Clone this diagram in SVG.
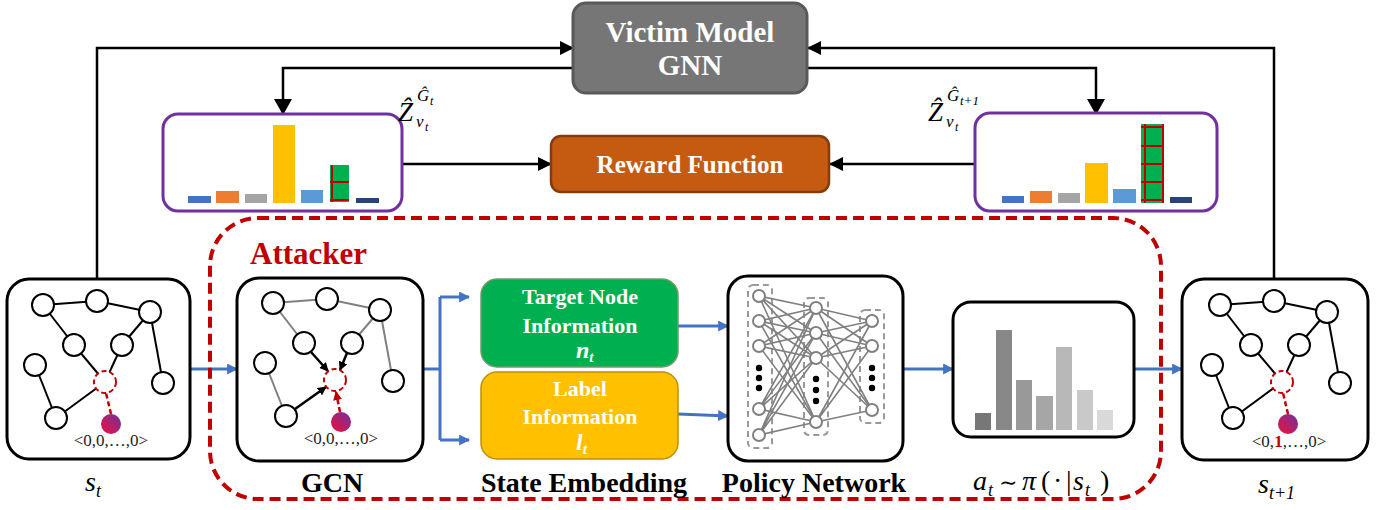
<svg xmlns="http://www.w3.org/2000/svg" width="1384" height="510" viewBox="0 0 1384 510">
  <style>
    .box { fill: #fff; stroke: #000; stroke-width: 3; }
    .nd { fill: #fff; stroke: #000; stroke-width: 2; }
    .tgt { fill: #fff; stroke: #C00000; stroke-width: 2; stroke-dasharray: 5 3; }
    .e { stroke: #000; stroke-width: 2; fill: none; }
    .eg { stroke: #808080; stroke-width: 2; fill: none; }
    .dr { stroke: #C00000; stroke-width: 2.5; stroke-dasharray: 5 3; fill: none; }
    .lbl { font-family: "Liberation Serif", "DejaVu Serif", serif; font-weight: bold; }
    .math { font-family: "Liberation Serif", "DejaVu Serif", serif; }
    .vec { font-family: "Liberation Serif", "DejaVu Serif", serif; font-size: 17px; fill: #222; }
    .wire { stroke: #000; stroke-width: 2.5; fill: none; }
    .blue { stroke: #4472C4; stroke-width: 3; fill: none; }
    .chart { fill: #fff; stroke: #7030A0; stroke-width: 3; }
    .nn { stroke: #808080; stroke-width: 1.6; fill: none; }
    .nnode { fill: #fff; stroke: #808080; stroke-width: 2; }
    .layer { fill: none; stroke: #999; stroke-width: 2; stroke-dasharray: 6 4; }
    .grid { stroke: #C00000; stroke-width: 2; }
  </style>
  <defs>
    <linearGradient id="feat" x1="0" y1="1" x2="1" y2="0">
      <stop offset="0" stop-color="#F0103A"/>
      <stop offset="1" stop-color="#7030A0"/>
    </linearGradient>
    <marker id="ahBig" viewBox="0 0 16 18" refX="15" refY="9" markerWidth="16" markerHeight="18" markerUnits="userSpaceOnUse" orient="auto">
      <path d="M0,0 L16,9 L0,18 z" fill="#000"/>
    </marker>
    <marker id="ahMed" viewBox="0 0 14 14" refX="13" refY="7" markerWidth="14" markerHeight="14" markerUnits="userSpaceOnUse" orient="auto">
      <path d="M0,0 L14,7 L0,14 z" fill="#000"/>
    </marker>
    <marker id="ahBlue" viewBox="0 0 10 10" refX="9" refY="5" markerWidth="11" markerHeight="11" markerUnits="userSpaceOnUse" orient="auto">
      <path d="M0,0 L10,5 L0,10 z" fill="#4472C4"/>
    </marker>
    <marker id="ahSmall" viewBox="0 0 10 10" refX="9" refY="5" markerWidth="9" markerHeight="9" markerUnits="userSpaceOnUse" orient="auto">
      <path d="M0,0 L10,5 L0,10 z" fill="#000"/>
    </marker>
    <marker id="ahRed" viewBox="0 0 10 10" refX="9" refY="5" markerWidth="9" markerHeight="9" markerUnits="userSpaceOnUse" orient="auto">
      <path d="M0,0 L10,5 L0,10 z" fill="#C00000"/>
    </marker>
    <!-- plain graph: edges, nodes, target node and its feature node -->
    <g id="graphPlain">
      <g>
        <line class="e" x1="36" y1="26" x2="90" y2="22"/>
        <line class="e" x1="90" y1="22" x2="143" y2="33"/>
        <line class="e" x1="36" y1="26" x2="67" y2="66"/>
        <line class="e" x1="143" y1="33" x2="115" y2="66"/>
        <line class="e" x1="143" y1="33" x2="156" y2="104"/>
        <line class="e" x1="67" y1="66" x2="98" y2="103"/>
        <line class="e" x1="115" y1="66" x2="98" y2="103"/>
        <line class="e" x1="28" y1="86" x2="49" y2="139"/>
        <line class="e" x1="49" y1="139" x2="98" y2="103"/>
        <line class="dr" x1="104" y1="135" x2="99" y2="114"/>
      </g>
      <circle class="nd" cx="36" cy="26" r="11"/>
      <circle class="nd" cx="90" cy="22" r="11"/>
      <circle class="nd" cx="143" cy="33" r="11"/>
      <circle class="nd" cx="67" cy="66" r="11"/>
      <circle class="nd" cx="115" cy="66" r="11"/>
      <circle class="nd" cx="28" cy="86" r="11"/>
      <circle class="tgt" cx="98" cy="103" r="11"/>
      <circle class="nd" cx="156" cy="104" r="11"/>
      <circle class="nd" cx="49" cy="139" r="11"/>
      <circle cx="104" cy="145" r="10" fill="url(#feat)"/>
    </g>
  </defs>

  <!-- connectors -->
  <g id="connectors">
    <polyline class="wire" points="97,279 97,48 573,48" marker-end="url(#ahMed)"/>
    <polyline class="wire" points="1274,279 1274,48 808,48" marker-end="url(#ahMed)"/>
    <polyline class="wire" points="573,68 283,68 283,114" marker-end="url(#ahBig)"/>
    <polyline class="wire" points="807,68 1096,68 1096,114" marker-end="url(#ahBig)"/>
    <line class="wire" x1="402" y1="164" x2="551" y2="164" marker-end="url(#ahMed)"/>
    <line class="wire" x1="975" y1="164" x2="830" y2="164" marker-end="url(#ahMed)"/>
    <line class="blue" x1="190" y1="369" x2="237" y2="369" marker-end="url(#ahBlue)"/>
    <polyline class="blue" points="423,369 440,369"/>
    <polyline class="blue" points="440,297 440,440"/>
    <line class="blue" x1="440" y1="297" x2="469" y2="297" marker-end="url(#ahBlue)"/>
    <line class="blue" x1="440" y1="440" x2="469" y2="440" marker-end="url(#ahBlue)"/>
    <line class="blue" x1="678" y1="326" x2="728" y2="326" marker-end="url(#ahBlue)"/>
    <line class="blue" x1="678" y1="414" x2="728" y2="416" marker-end="url(#ahBlue)"/>
    <line class="blue" x1="903" y1="369" x2="953" y2="369" marker-end="url(#ahBlue)"/>
    <line class="blue" x1="1134" y1="369" x2="1182" y2="369" marker-end="url(#ahBlue)"/>
  </g>

  <!-- victim model -->
  <g id="victim">
    <rect x="573" y="3" width="234" height="90" rx="13" fill="#767676" stroke="#595959" stroke-width="3"/>
    <text class="lbl" x="690" y="42" font-size="29" fill="#fff" text-anchor="middle">Victim Model</text>
    <text class="lbl" x="690" y="75" font-size="29" fill="#fff" text-anchor="middle">GNN</text>
  </g>

  <!-- reward function -->
  <g id="reward">
    <rect x="551" y="136" width="278" height="56" rx="10" fill="#C55A11" stroke="#843C0C" stroke-width="2.5"/>
    <text class="lbl" x="690" y="173" font-size="25" fill="#fff" text-anchor="middle">Reward Function</text>
  </g>

  <!-- prediction on the clean graph -->
  <g id="predBefore">
    <rect class="chart" x="163" y="114" width="239" height="97" rx="15"/>
    <rect x="188" y="196" width="23" height="7" fill="#4472C4"/>
    <rect x="216" y="191" width="23" height="12" fill="#ED7D31"/>
    <rect x="245" y="194" width="22" height="9" fill="#A5A5A5"/>
    <rect x="273" y="125" width="22" height="78" fill="#FFC000"/>
    <rect x="301" y="190" width="22" height="13" fill="#5B9BD5"/>
    <rect x="330" y="165" width="19" height="37" fill="#00B050"/>
    <line class="grid" x1="332" y1="165" x2="332" y2="202"/>
    <line class="grid" x1="330" y1="182" x2="349" y2="182"/>
    <line class="grid" x1="330" y1="200" x2="349" y2="200"/>
    <rect x="356" y="198" width="23" height="5" fill="#264478"/>
  </g>
  <g id="zBefore" class="math">
    <text x="398" y="121" font-size="27" font-style="italic">Ẑ</text>
    <text x="417" y="101" font-size="17" font-style="italic">Ĝ</text>
    <text x="430" y="105" font-size="12" font-style="italic">t</text>
    <text x="416" y="127" font-size="17" font-style="italic">v</text>
    <text x="425" y="131" font-size="12" font-style="italic">t</text>
  </g>

  <!-- prediction on the perturbed graph -->
  <g id="predAfter">
    <rect class="chart" x="975" y="113" width="242" height="98" rx="15"/>
    <rect x="1002" y="196" width="22" height="7" fill="#4472C4"/>
    <rect x="1030" y="191" width="22" height="12" fill="#ED7D31"/>
    <rect x="1058" y="193" width="22" height="10" fill="#A5A5A5"/>
    <rect x="1085" y="163" width="23" height="40" fill="#FFC000"/>
    <rect x="1113" y="189" width="23" height="14" fill="#5B9BD5"/>
    <rect x="1141" y="124" width="23" height="79" fill="#00B050"/>
    <line class="grid" x1="1145" y1="124" x2="1145" y2="203"/>
    <line class="grid" x1="1163" y1="124" x2="1163" y2="203"/>
    <line class="grid" x1="1141" y1="127" x2="1164" y2="127"/>
    <line class="grid" x1="1141" y1="146" x2="1164" y2="146"/>
    <line class="grid" x1="1141" y1="164" x2="1164" y2="164"/>
    <line class="grid" x1="1141" y1="182" x2="1164" y2="182"/>
    <line class="grid" x1="1141" y1="200" x2="1164" y2="200"/>
    <rect x="1170" y="197" width="22" height="6" fill="#264478"/>
  </g>
  <g id="zAfter" class="math">
    <text x="928" y="121" font-size="27" font-style="italic">Ẑ</text>
    <text x="947" y="101" font-size="17" font-style="italic">Ĝ</text>
    <text x="960" y="105" font-size="13" font-style="italic">t+1</text>
    <text x="946" y="127" font-size="17" font-style="italic">v</text>
    <text x="955" y="131" font-size="12" font-style="italic">t</text>
  </g>

  <!-- attacker frame -->
  <g id="attacker">
    <rect x="210" y="218" width="951" height="281" rx="48" fill="none" stroke="#C00000" stroke-width="4" stroke-dasharray="11 6"/>
    <text class="lbl" x="250" y="264" font-size="31" fill="#C00000">Attacker</text>
  </g>

  <!-- state s_t -->
  <g id="stateT">
    <rect class="box" x="7" y="279" width="183" height="180" rx="22"/>
    <use href="#graphPlain" x="7" y="279"/>
    <text class="vec" x="111" y="446" text-anchor="middle">&lt;0,0,…,0&gt;</text>
  </g>

  <!-- GCN -->
  <g id="gcn">
    <rect class="box" x="237" y="278" width="186" height="183" rx="22"/>
    <g transform="translate(237,277)">
      <line class="eg" x1="36" y1="26" x2="90" y2="22"/>
      <line class="eg" x1="90" y1="22" x2="143" y2="33"/>
      <line class="eg" x1="36" y1="26" x2="67" y2="66"/>
      <line class="eg" x1="143" y1="33" x2="115" y2="66"/>
      <line class="eg" x1="143" y1="33" x2="156" y2="104"/>
      <line class="eg" x1="28" y1="86" x2="49" y2="139"/>
      <line stroke="#000" stroke-width="2.5" x1="74" y1="75" x2="91" y2="94" marker-end="url(#ahSmall)"/>
      <line stroke="#000" stroke-width="2.5" x1="110" y1="76" x2="103" y2="93" marker-end="url(#ahSmall)"/>
      <line stroke="#000" stroke-width="2.5" x1="58" y1="132" x2="89" y2="110" marker-end="url(#ahSmall)"/>
      <line class="dr" x1="103" y1="135" x2="99" y2="115" marker-end="url(#ahRed)"/>
      <circle class="nd" cx="36" cy="26" r="11"/>
      <circle class="nd" cx="90" cy="22" r="11"/>
      <circle class="nd" cx="143" cy="33" r="11"/>
      <circle class="nd" cx="67" cy="66" r="11"/>
      <circle class="nd" cx="115" cy="66" r="11"/>
      <circle class="nd" cx="28" cy="86" r="11"/>
      <circle class="tgt" cx="98" cy="103" r="11"/>
      <circle class="nd" cx="156" cy="104" r="11"/>
      <circle class="nd" cx="49" cy="139" r="11"/>
      <circle cx="104" cy="145" r="10" fill="url(#feat)"/>
    </g>
    <text class="vec" x="341" y="444" text-anchor="middle">&lt;0,0,…,0&gt;</text>
    <text class="lbl" x="332" y="492" font-size="28" text-anchor="middle">GCN</text>
  </g>

  <!-- state embedding -->
  <g id="targetInfo">
    <rect x="481" y="279" width="197" height="88" rx="16" fill="#00B050" stroke="#6F9A6A" stroke-width="1.5"/>
    <text class="lbl" x="580" y="304" font-size="22" fill="#fff" text-anchor="middle">Target Node</text>
    <text class="lbl" x="580" y="333" font-size="22" fill="#fff" text-anchor="middle">Information</text>
    <text class="math" x="576" y="358" font-size="24" font-style="italic" font-weight="bold" fill="#fff">n<tspan font-size="15" dy="4">t</tspan></text>
  </g>
  <g id="labelInfo">
    <rect x="481" y="372" width="197" height="87" rx="16" fill="#FFC000" stroke="#BF9000" stroke-width="1.5"/>
    <text class="lbl" x="580" y="396" font-size="22" fill="#fff" text-anchor="middle">Label</text>
    <text class="lbl" x="580" y="424" font-size="22" fill="#fff" text-anchor="middle">Information</text>
    <text class="math" x="576" y="450" font-size="24" font-style="italic" font-weight="bold" fill="#fff">l<tspan font-size="15" dy="4">t</tspan></text>
  </g>
  <text class="lbl" x="584" y="492" font-size="28" text-anchor="middle">State Embedding</text>

  <!-- policy network -->
  <g id="policy">
    <rect class="box" x="728" y="276" width="175" height="185" rx="20"/>
    <rect class="layer" x="748" y="285" width="24" height="163" rx="5"/>
    <rect class="layer" x="804" y="298" width="24" height="137" rx="5"/>
    <rect class="layer" x="860" y="310" width="24" height="113" rx="5"/>
    <g class="nn">
      <path d="M759,296 L816,308 M759,296 L816,333 M759,296 L816,358 M759,296 L816,422"/>
      <path d="M759,321 L816,308 M759,321 L816,333 M759,321 L816,358 M759,321 L816,422"/>
      <path d="M759,346 L816,308 M759,346 L816,333 M759,346 L816,358 M759,346 L816,422"/>
      <path d="M759,409 L816,308 M759,409 L816,333 M759,409 L816,358 M759,409 L816,422"/>
      <path d="M759,435 L816,308 M759,435 L816,333 M759,435 L816,358 M759,435 L816,422"/>
      <path d="M816,308 L872,321 M816,308 L872,346 M816,308 L872,410"/>
      <path d="M816,333 L872,321 M816,333 L872,346 M816,333 L872,410"/>
      <path d="M816,358 L872,321 M816,358 L872,346 M816,358 L872,410"/>
      <path d="M816,422 L872,321 M816,422 L872,346 M816,422 L872,410"/>
    </g>
    <g>
      <circle class="nnode" cx="759" cy="296" r="6"/>
      <circle class="nnode" cx="759" cy="321" r="6"/>
      <circle class="nnode" cx="759" cy="346" r="6"/>
      <circle class="nnode" cx="759" cy="409" r="6"/>
      <circle class="nnode" cx="759" cy="435" r="6"/>
      <circle class="nnode" cx="816" cy="308" r="6"/>
      <circle class="nnode" cx="816" cy="333" r="6"/>
      <circle class="nnode" cx="816" cy="358" r="6"/>
      <circle class="nnode" cx="816" cy="422" r="6"/>
      <circle class="nnode" cx="872" cy="321" r="6"/>
      <circle class="nnode" cx="872" cy="346" r="6"/>
      <circle class="nnode" cx="872" cy="410" r="6"/>
    </g>
    <g fill="#000">
      <circle cx="759" cy="368" r="3.2"/><circle cx="759" cy="378" r="3.2"/><circle cx="759" cy="388" r="3.2"/>
      <circle cx="816" cy="379" r="3.2"/><circle cx="816" cy="390" r="3.2"/><circle cx="816" cy="401" r="3.2"/>
      <circle cx="872" cy="368" r="3.2"/><circle cx="872" cy="378" r="3.2"/><circle cx="872" cy="388" r="3.2"/>
    </g>
    <text class="lbl" x="814" y="492" font-size="28" text-anchor="middle">Policy Network</text>
  </g>

  <!-- action distribution -->
  <g id="action">
    <rect class="box" x="953" y="302" width="181" height="135" rx="18"/>
    <rect x="975" y="413" width="16" height="17" fill="#777"/>
    <rect x="996" y="330" width="16" height="100" fill="#888"/>
    <rect x="1016" y="380" width="16" height="50" fill="#999"/>
    <rect x="1036" y="396" width="17" height="34" fill="#A6A6A6"/>
    <rect x="1056" y="347" width="16" height="83" fill="#B8B8B8"/>
    <rect x="1077" y="390" width="16" height="40" fill="#C9C9C9"/>
    <rect x="1097" y="410" width="16" height="20" fill="#D9D9D9"/>
    <text class="math" y="490" font-size="28"><tspan x="973" font-style="italic">a</tspan><tspan x="988" font-size="18" dy="6" font-style="italic">t</tspan><tspan x="999" dy="-6" font-size="22">∼</tspan><tspan x="1022" font-style="italic">π</tspan><tspan x="1041">(</tspan><tspan x="1053">·</tspan><tspan x="1066">|</tspan><tspan x="1073" font-style="italic">s</tspan><tspan x="1085" font-size="18" dy="6" font-style="italic">t</tspan><tspan x="1100" dy="-6">)</tspan></text>
  </g>

  <!-- state s_{t+1} -->
  <g id="stateT1">
    <rect class="box" x="1182" y="279" width="186" height="181" rx="22"/>
    <use href="#graphPlain" x="1184" y="279"/>
    <text class="vec" x="1289" y="447" text-anchor="middle">&lt;0,<tspan fill="#C00000" font-weight="bold">1</tspan>,…,0&gt;</text>
  </g>

  <text class="math" x="85" y="491" font-size="28"><tspan font-style="italic">s</tspan><tspan font-size="18" dy="6" font-style="italic">t</tspan></text>
  <text class="math" x="1258" y="493" font-size="28"><tspan font-style="italic">s</tspan><tspan font-size="18" dy="6" font-style="italic">t+1</tspan></text>
</svg>
